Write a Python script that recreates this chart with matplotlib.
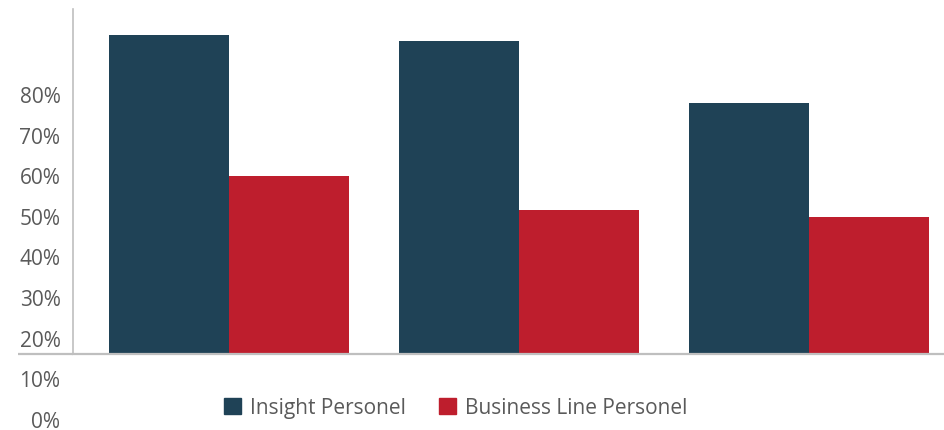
import matplotlib
matplotlib.use("Agg")
import matplotlib.pyplot as plt
import matplotlib.transforms as mtransforms
import numpy as np
from matplotlib.patches import Patch

plt.rcParams['font.family'] = ['Open Sans', 'DejaVu Sans']

# data (percent)
groups = ["Group 1", "Group 2", "Group 3"]
insight = [95.0, 93.5, 78.3]
business = [60.3, 51.9, 50.2]
tick_values = [0, 10, 20, 30, 40, 50, 60, 70, 80]
tick_labels = ["0%", "10%", "20%", "30%", "40%", "50%", "60%", "70%", "80%"]
BASE = 16.45  # where the bars stand on the axis line

DARK = "#1F4256"
RED = "#BE1E2D"
GRAY = "#BFBFBF"
TEXT = "#5A5A5A"

fig = plt.figure(figsize=(9.45, 4.31), dpi=100)
ax = fig.add_axes([73 / 945, 0, 872 / 945, 1])

x = np.arange(len(groups))
w = 120 / 290
ax.bar(x - w / 2, np.array(insight) - BASE, w, bottom=BASE, color=DARK, linewidth=0)
ax.bar(x + w / 2, np.array(business) - BASE, w, bottom=BASE, color=RED, linewidth=0)

ax.set_xlim(-0.538, 2.469)
ax.set_ylim(-2.27, 103.89)

for s in ["top", "right"]:
    ax.spines[s].set_visible(False)
ax.spines["left"].set_color(GRAY)
ax.spines["left"].set_linewidth(1.2)
ax.spines["left"].set_bounds(BASE, 101.4)
ax.spines["bottom"].set_position(("data", BASE))
ax.spines["bottom"].set_color(GRAY)
ax.spines["bottom"].set_linewidth(1.6)
# axis line runs a bit past the y axis to the left
ax.plot([(18 - 229) / 290, -0.538], [BASE, BASE], color=GRAY, lw=1.6,
        clip_on=False, solid_capstyle="butt")

ax.set_xticks([])
ax.set_yticks(tick_values)
ax.set_yticklabels(tick_labels, color=TEXT, fontsize=15)
ax.tick_params(axis="y", length=0, pad=9)
# nudge labels up a touch so the bottom one stays inside the figure
shift = mtransforms.ScaledTranslation(0, 2 / 100, fig.dpi_scale_trans)
for lab in ax.get_yticklabels():
    lab.set_transform(lab.get_transform() + shift)

handles = [Patch(color=DARK, label="Insight Personel"),
           Patch(color=RED, label="Business Line Personel")]
fig.legend(handles=handles, loc="center", bbox_to_anchor=(456 / 945, 1 - 409 / 431),
           ncol=2, frameon=False, fontsize=15, labelcolor=TEXT,
           handlelength=0.8, handleheight=0.8, handletextpad=0.45,
           columnspacing=1.6)

fig.savefig("out.png", dpi=100)
